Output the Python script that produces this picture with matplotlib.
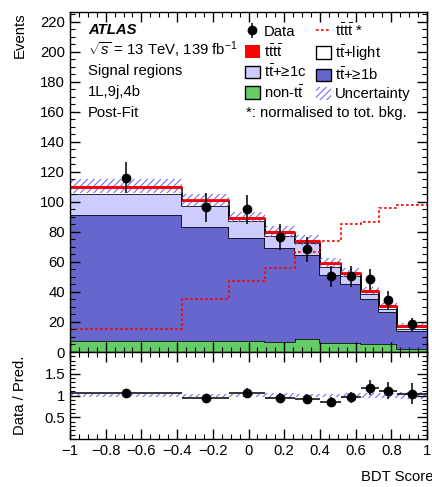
import numpy as np
import matplotlib
matplotlib.use('Agg')
import matplotlib.pyplot as plt
from matplotlib.patches import Patch
from matplotlib.lines import Line2D
from matplotlib.ticker import MultipleLocator, FuncFormatter

plt.rcParams['font.family'] = ['Liberation Sans', 'DejaVu Sans']
plt.rcParams['mathtext.fontset'] = 'custom'
plt.rcParams['mathtext.rm'] = 'Liberation Sans'
plt.rcParams['mathtext.it'] = 'Liberation Sans:italic'
plt.rcParams['mathtext.bf'] = 'Liberation Sans:bold'
plt.rcParams['font.size'] = 10.7
plt.rcParams['hatch.linewidth'] = 0.8

# bin edges of the BDT score
edges = np.array([-1.0, -0.37, -0.11, 0.09, 0.26, 0.40, 0.52, 0.63, 0.73, 0.83, 1.0])

# post-fit yields per process (stack order bottom -> top)
non_tt = np.array([7.3, 7.3, 7.0, 6.6, 8.4, 5.7, 6.2, 5.1, 5.0, 2.2])
tt_1b = np.array([83.9, 75.7, 68.8, 62.5, 56.1, 45.9, 39.4, 30.5, 21.7, 11.6])
tt_1c = np.array([14.2, 14.4, 11.5, 7.9, 7.8, 5.1, 5.1, 3.3, 2.2, 1.8])
tt_light = np.array([4.0, 3.1, 1.2, 2.2, 1.0, 1.8, 1.1, 1.1, 1.1, 1.1])
tttt = np.array([1.0, 0.9, 1.2, 1.2, 1.2, 1.1, 1.1, 1.1, 1.1, 1.1])
unc = np.array([4.6, 4.0, 3.3, 3.8, 3.3, 2.7, 2.9, 2.3, 2.0, 1.5])

# tttt signal normalised to total background
tttt_norm = np.array([15.6, 35.5, 47.6, 56.0, 66.6, 73.7, 85.2, 86.3, 96.2, 98.0])

# data
data = np.array([116.2, 96.3, 95.2, 76.4, 68.3, 50.4, 50.5, 48.4, 34.5, 18.6])
data_err = np.array([10.5, 9.7, 9.7, 8.6, 8.3, 7.1, 7.1, 7.0, 5.9, 4.3])

centers = 0.5 * (edges[1:] + edges[:-1])
halfw = 0.5 * (edges[1:] - edges[:-1])

c_red = '#ff0000'
c_white = '#ffffff'
c_lblue = '#ccccff'
c_dblue = '#6666cc'
c_green = '#66cc66'
c_hatch = '#6f6fff'

fig = plt.figure(figsize=(4.32, 4.87), dpi=100)
ax = fig.add_axes([70/432, 1-352/487, 357/432, 340/487])
rax = fig.add_axes([70/432, 1-439/487, 357/432, 87/487], sharex=ax)

# stack
comps = [(non_tt, c_green), (tt_1b, c_dblue), (tt_1c, c_lblue),
         (tt_light, c_white), (tttt, c_red)]
base = np.zeros(len(non_tt))
for vals, col in comps:
    top = base + vals
    ax.stairs(top, edges, baseline=base, fill=True, facecolor=col, linewidth=0)
    if col != c_red:
        ax.stairs(top, edges, baseline=None, color='black', linewidth=1.1)
    base = top
total = base
ax.hlines(total - 0.4, edges[:-1], edges[1:], color=c_red, linewidth=2.0)

ax.stairs(total + unc, edges, baseline=total - unc, fill=True, facecolor='none',
          edgecolor=c_hatch, hatch='/////', linewidth=0)

ax.stairs(tttt_norm, edges, baseline=None, color=c_red, linewidth=1.2,
          linestyle=(0, (1.6, 1.4)))

ax.errorbar(centers, data, yerr=data_err, fmt='o', color='black', ms=6,
            elinewidth=1.1, capsize=0, zorder=5)

ax.set_xlim(-1, 1)
ax.set_ylim(0, 226.5)
ax.yaxis.set_major_locator(MultipleLocator(20))
ax.yaxis.set_minor_locator(MultipleLocator(5))
ax.xaxis.set_major_locator(MultipleLocator(0.2))
ax.xaxis.set_minor_locator(MultipleLocator(0.05))
ax.tick_params(labelbottom=False)

# ratio
ratio = data / total
ratio_err = data_err / total
rax.stairs(1 + unc / total, edges, baseline=1 - unc / total, fill=True,
           facecolor='none', edgecolor=c_hatch, hatch='/////', linewidth=0)
rax.errorbar(centers, ratio, xerr=halfw, yerr=ratio_err, fmt='o', color='black',
             ms=6, elinewidth=1.1, capsize=0, zorder=5)
rax.set_ylim(0, 2)
rax.set_yticks([0.5, 1, 1.5])
rax.yaxis.set_minor_locator(MultipleLocator(0.1))
rax.xaxis.set_major_formatter(FuncFormatter(lambda v, p: ('%g' % round(v, 2)).replace('-', '\u2212')))
rax.yaxis.set_major_formatter(FuncFormatter(lambda v, p: '%g' % v))

for a in (ax, rax):
    a.tick_params(which='both', direction='in', top=True, right=True)
    a.tick_params(which='major', length=7, width=1)
    a.tick_params(which='minor', length=3.5, width=0.8)
    for s in a.spines.values():
        s.set_linewidth(1)

ax.set_ylabel('Events', loc='top')
ax.yaxis.set_label_coords(-0.12, 1.0)
rax.set_ylabel('Data / Pred.')
rax.yaxis.set_label_coords(-0.12, 0.5)
rax.set_xlabel('BDT Score', loc='right')
rax.xaxis.set_label_coords(1.017, -0.36)

# labels
tx = 0.05
ax.text(tx, 0.947, 'ATLAS', transform=ax.transAxes, fontweight='bold',
        fontstyle='italic', va='center')
ax.text(tx, 0.888, r'$\sqrt{s}$ = 13 TeV, 139 fb$^{-1}$', transform=ax.transAxes, va='center')
ax.text(tx, 0.826, 'Signal regions', transform=ax.transAxes, va='center')
ax.text(tx, 0.765, '1L,9j,4b', transform=ax.transAxes, va='center')
ax.text(tx, 0.703, 'Post-Fit', transform=ax.transAxes, va='center')

tt = r'$\mathrm{t\bar{t}}$'
h_data = ax.errorbar([], [], yerr=[], fmt='o', color='black', ms=6, elinewidth=1.1)
handles = [
    h_data,
    Patch(facecolor=c_red, edgecolor=c_red, linewidth=0),
    Patch(facecolor=c_lblue, edgecolor='black', linewidth=1),
    Patch(facecolor=c_green, edgecolor='black', linewidth=1),
    Line2D([], [], color=c_red, linewidth=1.2, linestyle=(0, (1.6, 1.4))),
    Patch(facecolor=c_white, edgecolor='black', linewidth=1),
    Patch(facecolor=c_dblue, edgecolor='black', linewidth=1),
    Patch(facecolor='none', edgecolor=c_hatch, hatch='/////', linewidth=0),
]
labels = ['Data', r'$\mathrm{t\bar{t}t\bar{t}}$', tt + '+\u22651c', 'non-' + tt,
          r'$\mathrm{t\bar{t}t\bar{t}}$ *', tt + '+light', tt + '+\u22651b', 'Uncertainty']
ax.legend(handles, labels, ncol=2, loc='upper left', bbox_to_anchor=(0.49, 0.97),
          frameon=False, borderpad=0, borderaxespad=0, handlelength=1.0,
          handleheight=0.95, handletextpad=0.27, columnspacing=0.65,
          labelspacing=0.25)
ax.text(0.493, 0.703, '*: normalised to tot. bkg.', transform=ax.transAxes, va='center')

fig.savefig('out.png', dpi=100)
